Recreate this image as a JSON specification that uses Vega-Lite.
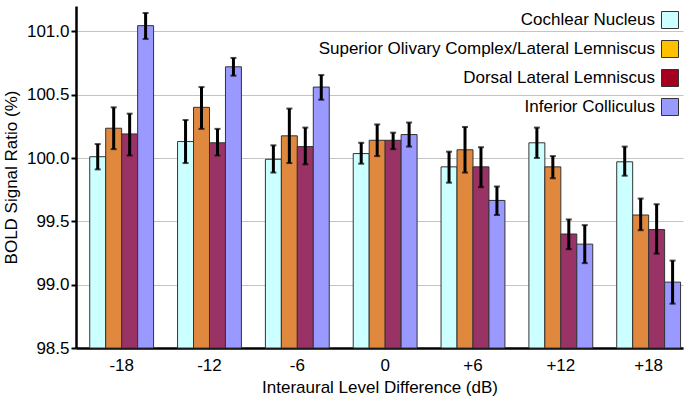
{
  "$schema": "https://vega.github.io/schema/vega-lite/v6.json",
  "width": 607,
  "height": 342,
  "autosize": {"type": "none"},
  "padding": {"left": 76, "top": 6, "right": 7, "bottom": 53},
  "background": "white",
  "config": {
    "font": "Liberation Sans",
    "view": {"stroke": null},
    "axis": {"labelFontSize": 17, "titleFontSize": 17, "labelColor": "black", "titleColor": "black", "titleFontWeight": "normal", "labelFont": "Liberation Sans", "titleFont": "Liberation Sans"},
    "legend": {"labelFontSize": 17, "labelColor": "black", "labelFont": "Liberation Sans"}
  },
  "data": {
    "values": [
      {"ild": "-18", "region": "Cochlear Nucleus", "value": 100.01, "lo": 99.91, "hi": 100.11},
      {"ild": "-18", "region": "Superior Olivary Complex/Lateral Lemniscus", "value": 100.235, "lo": 100.07, "hi": 100.40},
      {"ild": "-18", "region": "Dorsal Lateral Lemniscus", "value": 100.19, "lo": 100.02, "hi": 100.35},
      {"ild": "-18", "region": "Inferior Colliculus", "value": 101.045, "lo": 100.94, "hi": 101.145},
      {"ild": "-12", "region": "Cochlear Nucleus", "value": 100.13, "lo": 99.96, "hi": 100.30},
      {"ild": "-12", "region": "Superior Olivary Complex/Lateral Lemniscus", "value": 100.40, "lo": 100.23, "hi": 100.56},
      {"ild": "-12", "region": "Dorsal Lateral Lemniscus", "value": 100.12, "lo": 100.02, "hi": 100.23},
      {"ild": "-12", "region": "Inferior Colliculus", "value": 100.72, "lo": 100.65, "hi": 100.79},
      {"ild": "-6", "region": "Cochlear Nucleus", "value": 99.99, "lo": 99.885, "hi": 100.10},
      {"ild": "-6", "region": "Superior Olivary Complex/Lateral Lemniscus", "value": 100.175, "lo": 99.96, "hi": 100.39},
      {"ild": "-6", "region": "Dorsal Lateral Lemniscus", "value": 100.09, "lo": 99.95, "hi": 100.24},
      {"ild": "-6", "region": "Inferior Colliculus", "value": 100.56, "lo": 100.46, "hi": 100.655},
      {"ild": "0", "region": "Cochlear Nucleus", "value": 100.035, "lo": 99.955, "hi": 100.12},
      {"ild": "0", "region": "Superior Olivary Complex/Lateral Lemniscus", "value": 100.14, "lo": 100.015, "hi": 100.265},
      {"ild": "0", "region": "Dorsal Lateral Lemniscus", "value": 100.14, "lo": 100.07, "hi": 100.20},
      {"ild": "0", "region": "Inferior Colliculus", "value": 100.185, "lo": 100.09, "hi": 100.28},
      {"ild": "+6", "region": "Cochlear Nucleus", "value": 99.93, "lo": 99.805, "hi": 100.05},
      {"ild": "+6", "region": "Superior Olivary Complex/Lateral Lemniscus", "value": 100.065, "lo": 99.885, "hi": 100.245},
      {"ild": "+6", "region": "Dorsal Lateral Lemniscus", "value": 99.93, "lo": 99.77, "hi": 100.085},
      {"ild": "+6", "region": "Inferior Colliculus", "value": 99.665, "lo": 99.55, "hi": 99.775},
      {"ild": "+12", "region": "Cochlear Nucleus", "value": 100.12, "lo": 100.0, "hi": 100.24},
      {"ild": "+12", "region": "Superior Olivary Complex/Lateral Lemniscus", "value": 99.93, "lo": 99.84, "hi": 100.015},
      {"ild": "+12", "region": "Dorsal Lateral Lemniscus", "value": 99.40, "lo": 99.28, "hi": 99.515},
      {"ild": "+12", "region": "Inferior Colliculus", "value": 99.32, "lo": 99.17, "hi": 99.47},
      {"ild": "+18", "region": "Cochlear Nucleus", "value": 99.97, "lo": 99.86, "hi": 100.09},
      {"ild": "+18", "region": "Superior Olivary Complex/Lateral Lemniscus", "value": 99.55, "lo": 99.43, "hi": 99.68},
      {"ild": "+18", "region": "Dorsal Lateral Lemniscus", "value": 99.435, "lo": 99.245, "hi": 99.635},
      {"ild": "+18", "region": "Inferior Colliculus", "value": 99.02, "lo": 98.85, "hi": 99.19}
    ]
  },
  "encoding": {
    "x": {
      "field": "ild", "type": "nominal",
      "sort": ["-18", "-12", "-6", "0", "+6", "+12", "+18"],
      "scale": {"paddingInner": 0.273, "paddingOuter": 0.092, "align": 0.85},
      "axis": {"title": "Interaural Level Difference (dB)", "labelAngle": 0, "ticks": false, "labelPadding": 9, "titlePadding": 6, "domainColor": "black", "domainWidth": 2.5, "grid": false}
    },
    "xOffset": {
      "field": "region", "type": "nominal",
      "sort": ["Cochlear Nucleus", "Superior Olivary Complex/Lateral Lemniscus", "Dorsal Lateral Lemniscus", "Inferior Colliculus"],
      "scale": {"paddingInner": 0, "paddingOuter": 0}
    }
  },
  "layer": [
    {
      "mark": {"type": "bar", "stroke": "#333333", "strokeWidth": 1},
      "encoding": {
        "y": {
          "field": "value", "type": "quantitative",
          "scale": {"domain": [98.5, 101.2], "nice": false, "zero": false},
          "axis": {"title": "BOLD Signal Ratio (%)", "values": [98.5, 99.0, 99.5, 100.0, 100.5, 101.0], "format": ".1f", "tickSize": 5, "tickWidth": 2, "tickColor": "black", "labelPadding": 2, "titlePadding": 6, "domainColor": "black", "domainWidth": 2.5, "gridColor": "#C4C4C4", "gridWidth": 1}
        },
        "y2": {"datum": 98.5},
        "fill": {
          "field": "region", "type": "nominal",
          "scale": {
            "domain": ["Inferior Colliculus", "Dorsal Lateral Lemniscus", "Superior Olivary Complex/Lateral Lemniscus", "Cochlear Nucleus"],
            "range": ["#9999FF", "#993366", "#E0893E", "#CCFFFF"]
          },
          "legend": null
        }
      }
    },
    {
      "mark": {"type": "point", "shape": "square", "filled": true, "size": 0},
      "encoding": {
        "y": {"field": "value", "type": "quantitative"},
        "color": {
          "field": "region", "type": "nominal",
          "scale": {
            "domain": ["Cochlear Nucleus", "Superior Olivary Complex/Lateral Lemniscus", "Dorsal Lateral Lemniscus", "Inferior Colliculus"],
            "range": ["#CCFFFF", "#FFC000", "#A50021", "#9999FF"]
          },
          "legend": {
            "title": null,
            "orient": "none",
            "legendX": 585,
            "legendY": 5,
            "padding": 0,
            "symbolType": "square",
            "symbolSize": 289,
            "symbolOpacity": 1,
            "symbolStrokeColor": "#333333",
            "symbolStrokeWidth": 1,
            "labelAlign": "right",
            "labelBaseline": "middle",
            "labelOffset": -24,
            "labelLimit": 500,
            "rowPadding": 7,
            "encoding": {
              "symbols": {
                "stroke": {"value": "#333333"},
                "strokeWidth": {"value": 1}
              }
            }
          }
        }
      }
    },
    {
      "mark": {"type": "rule", "color": "black", "strokeWidth": 3},
      "encoding": {
        "y": {"field": "lo", "type": "quantitative"},
        "y2": {"field": "hi"}
      }
    },
    {
      "mark": {"type": "tick", "color": "black", "thickness": 2, "size": 6, "orient": "horizontal"},
      "encoding": {
        "y": {"field": "lo", "type": "quantitative"}
      }
    },
    {
      "mark": {"type": "tick", "color": "black", "thickness": 2, "size": 6, "orient": "horizontal"},
      "encoding": {
        "y": {"field": "hi", "type": "quantitative"}
      }
    }
  ]
}
